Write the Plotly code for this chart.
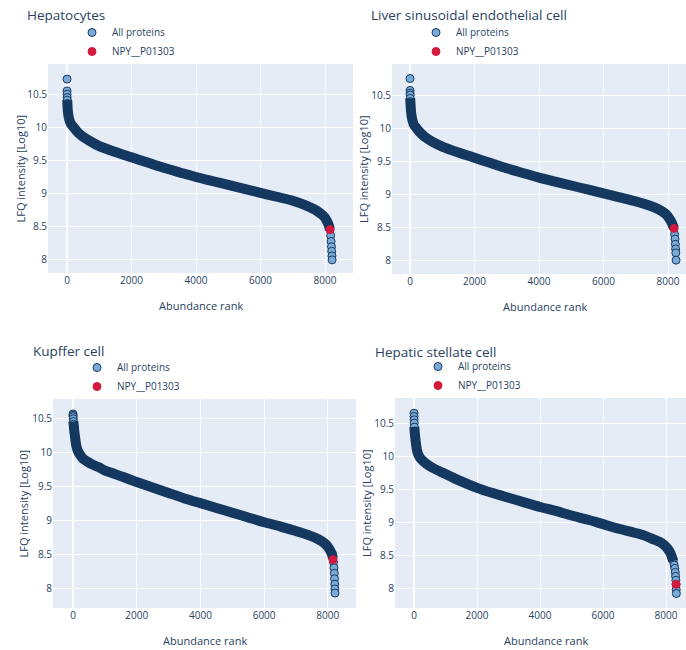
import plotly.graph_objects as go

# ---------------- data ----------------
panel_titles = ["Hepatocytes", "Liver sinusoidal endothelial cell",
                "Kupffer cell", "Hepatic stellate cell"]
series_names = ["All proteins", "NPY__P01303"]

hep_rank = [1, 2, 3, 5, 8, 12, 20, 30, 50, 80, 120, 200, 300, 450, 700, 1000, 1500,
            2000, 2500, 3000, 3500, 4000, 4500, 5000, 5500, 6000, 6500, 7000, 7400,
            7700, 7900, 8000, 8070, 8120, 8155, 8175, 8190, 8200, 8208, 8215, 8220]
hep_lfq = [10.74, 10.56, 10.51, 10.46, 10.42, 10.37, 10.30, 10.24, 10.17, 10.11, 10.06,
           10.01, 9.95, 9.88, 9.80, 9.72, 9.63, 9.55, 9.47, 9.39, 9.32, 9.25, 9.19, 9.13,
           9.07, 9.01, 8.95, 8.89, 8.82, 8.75, 8.68, 8.63, 8.57, 8.51, 8.45, 8.36, 8.27,
           8.19, 8.12, 8.05, 7.99]
hep_npy = (8155, 8.45)

lsec_rank = [1, 2, 3, 5, 8, 12, 20, 30, 50, 80, 120, 200, 300, 450, 700, 1000, 1500,
             2000, 2500, 3000, 3500, 4000, 4500, 5000, 5500, 6000, 6500, 7000, 7400,
             7700, 7900, 8000, 8080, 8140, 8185, 8205, 8218, 8228, 8236, 8243, 8250]
lsec_lfq = [10.75, 10.57, 10.53, 10.50, 10.45, 10.40, 10.33, 10.26, 10.18, 10.11, 10.05,
            10.00, 9.94, 9.87, 9.79, 9.72, 9.63, 9.55, 9.47, 9.39, 9.32, 9.25, 9.19, 9.13,
            9.07, 9.01, 8.95, 8.89, 8.83, 8.77, 8.71, 8.66, 8.60, 8.54, 8.48, 8.39, 8.32,
            8.24, 8.17, 8.11, 8.00]
lsec_npy = (8185, 8.48)

kup_rank = [1, 2, 4, 7, 12, 20, 30, 45, 70, 100, 150, 220, 320, 450, 600, 800, 1000,
            1300, 1600, 2000, 2500, 3000, 3500, 4000, 4500, 5000, 5500, 6000, 6500, 7000,
            7400, 7700, 7900, 8000, 8080, 8130, 8160, 8180, 8195, 8205, 8212, 8218, 8222,
            8225]
kup_lfq = [10.56, 10.54, 10.52, 10.49, 10.45, 10.41, 10.36, 10.29, 10.20, 10.10, 10.02,
           9.96, 9.90, 9.86, 9.82, 9.78, 9.73, 9.68, 9.63, 9.56, 9.48, 9.40, 9.32, 9.25,
           9.18, 9.11, 9.04, 8.97, 8.91, 8.84, 8.78, 8.72, 8.66, 8.61, 8.55, 8.50, 8.44,
           8.38, 8.30, 8.22, 8.14, 8.06, 7.99, 7.93]
kup_npy = (8160, 8.42)

hsc_rank = [1, 2, 4, 7, 12, 20, 35, 60, 90, 130, 200, 300, 400, 600, 900, 1300, 2000,
            2500, 3000, 3500, 4000, 4500, 5000, 5500, 6000, 6500, 7000, 7300, 7600, 7800,
            7950, 8050, 8130, 8190, 8230, 8260, 8280, 8295, 8305, 8313, 8320, 8325, 8330]
hsc_lfq = [10.65, 10.60, 10.55, 10.50, 10.44, 10.38, 10.30, 10.20, 10.10, 10.03, 9.97,
           9.92, 9.88, 9.82, 9.75, 9.66, 9.52, 9.44, 9.37, 9.30, 9.23, 9.17, 9.10, 9.04,
           8.97, 8.90, 8.84, 8.80, 8.74, 8.70, 8.65, 8.60, 8.54, 8.47, 8.41, 8.35, 8.30,
           8.24, 8.18, 8.12, 8.06, 7.98, 7.92]
hsc_npy = (8320, 8.06)

x_ticks = [0, 2000, 4000, 6000, 8000]
y_ticks = [8, 8.5, 9, 9.5, 10, 10.5]
y_tick_text = ["8", "8.5", "9", "9.5", "10", "10.5"]

# ---------------- styling / layout ----------------
W, H = 686, 650
FILL = "#7aabd8"
EDGE = "#17395f"
BAND = "#14385f"
RED = "#d2193e"
TXT = "#2a3f5f"

panels = [
    dict(rank=hep_rank, lfq=hep_lfq, npy=hep_npy, band=(10.45, 8.45),
         px=(48, 353), py=(64, 273), xr=(-589, 8868), yr=(7.79, 10.97),
         title=(25, 15), leg=(72, 18), ytitle_x=20),
    dict(rank=lsec_rank, lfq=lsec_lfq, npy=lsec_npy, band=(10.45, 8.48),
         px=(392, 686), py=(64, 274), xr=(-558, 8558), yr=(7.79, 10.97),
         title=(369, 15), leg=(416, 18), ytitle_x=363),
    dict(rank=kup_rank, lfq=kup_lfq, npy=kup_npy, band=(10.45, 8.44),
         px=(53, 356), py=(399, 608), xr=(-628, 8885), yr=(7.71, 10.78),
         title=(31, 351), leg=(77, 353), ytitle_x=23),
    dict(rank=hsc_rank, lfq=hsc_lfq, npy=hsc_npy, band=(10.44, 8.41),
         px=(395, 686), py=(398, 608), xr=(-603, 8635), yr=(7.70, 10.88),
         title=(373, 352), leg=(418, 352), ytitle_x=366),
]

fig = go.Figure()
annotations = []
layout = dict(width=W, height=H, margin=dict(l=0, r=0, t=0, b=0),
              paper_bgcolor="white", plot_bgcolor="#E5ECF6",
              font=dict(family="Open Sans, Arial, sans-serif", color=TXT, size=10))

for i, p in enumerate(panels):
    n = "" if i == 0 else str(i + 1)
    xa, ya = "x" + n, "y" + n
    leg = "legend" + n
    hi, lo = p["band"]
    # All proteins (markers)
    fig.add_trace(go.Scatter(
        x=p["rank"], y=p["lfq"], mode="markers", name=series_names[0],
        marker=dict(size=8, color=FILL, line=dict(color=EDGE, width=1)),
        xaxis=xa, yaxis=ya, legend=leg, showlegend=True))
    # dense body of the curve (thousands of overlapping markers look like a band)
    bx = [r for r, v in zip(p["rank"], p["lfq"]) if lo <= v <= hi]
    by = [v for v in p["lfq"] if lo <= v <= hi]
    fig.add_trace(go.Scatter(
        x=bx, y=by, mode="lines", line=dict(color=BAND, width=10, shape="spline",
                                            smoothing=0.6),
        hoverinfo="skip", xaxis=xa, yaxis=ya, showlegend=False))
    # NPY protein
    fig.add_trace(go.Scatter(
        x=[p["npy"][0]], y=[p["npy"][1]], mode="markers", name=series_names[1],
        marker=dict(size=8, color=RED, line=dict(color=RED, width=1)),
        xaxis=xa, yaxis=ya, legend=leg, showlegend=True))

    x0, x1 = p["px"]
    y0, y1 = p["py"]
    layout["xaxis" + n] = dict(
        domain=[x0 / W, x1 / W], anchor=ya, range=list(p["xr"]),
        tickvals=x_ticks, gridcolor="white", zeroline=True, zerolinecolor="white",
        zerolinewidth=2, showline=False, ticks="", tickfont=dict(size=10, color=TXT))
    layout["yaxis" + n] = dict(
        domain=[1 - y1 / H, 1 - y0 / H], anchor=xa, range=list(p["yr"]),
        tickvals=y_ticks, ticktext=y_tick_text, gridcolor="white", zeroline=False,
        showline=False, ticks="", tickfont=dict(size=10, color=TXT))
    lx, ly = p["leg"]
    layout[leg] = dict(x=lx / W, y=1 - ly / H, xanchor="left", yanchor="top",
                       bgcolor="rgba(0,0,0,0)", font=dict(size=10, color=TXT),
                       tracegroupgap=0)
    tx, ty = p["title"]
    annotations.append(dict(text=panel_titles[i], x=tx / W, y=1 - ty / H,
                            xref="paper", yref="paper", xanchor="left", yanchor="middle",
                            showarrow=False, font=dict(size=13.5, color=TXT)))
    annotations.append(dict(text="Abundance rank", x=(x0 + x1) / 2 / W + (6 / W if x1 >= W else 0),
                            y=1 - (y1 + 32) / H, xref="paper", yref="paper",
                            xanchor="center", yanchor="middle", showarrow=False,
                            font=dict(size=11, color=TXT)))
    annotations.append(dict(text="LFQ intensity [Log10]", x=p["ytitle_x"] / W,
                            y=1 - (y0 + y1) / 2 / H, xref="paper", yref="paper",
                            xanchor="center", yanchor="middle", textangle=-90,
                            showarrow=False, font=dict(size=11, color=TXT)))

layout["annotations"] = annotations
fig.update_layout(**layout)
fig.write_html("out.html")
